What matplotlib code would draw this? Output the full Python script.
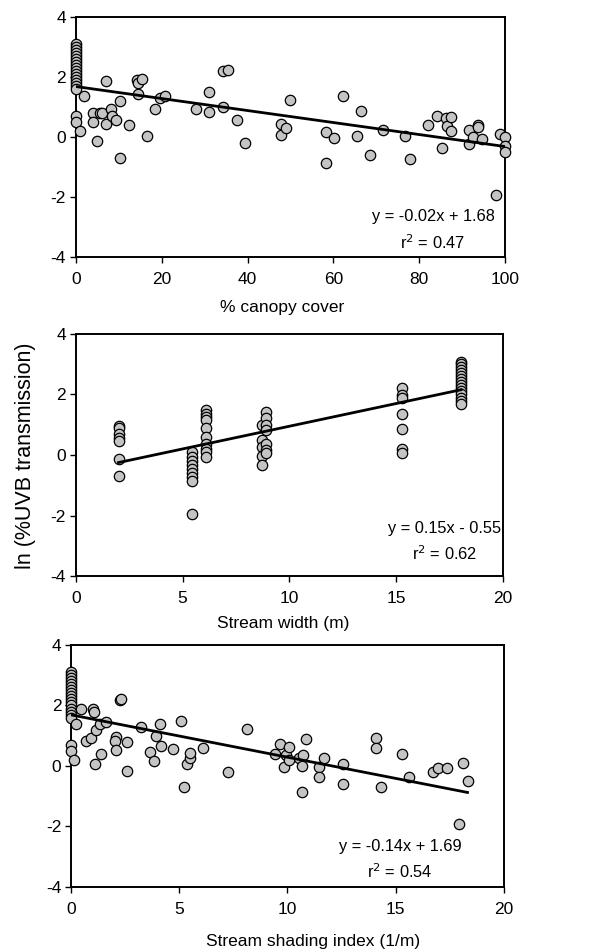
import matplotlib

matplotlib.use("Agg")
import matplotlib.pyplot as plt
import numpy as np

plt.rcParams["font.family"] = ["Liberation Sans", "DejaVu Sans"]

# panel 1: % canopy cover
canopy_x = [0] * 18 + [
    0.9, 1.9, 4.0, 4.0, 5.0, 5.6, 6.2, 7.1, 7.1, 8.2, 8.4, 9.3, 10.3, 10.3,
    12.4, 14.3, 14.5, 14.4, 15.5, 16.5, 18.5, 19.6, 20.7, 28.0, 31.1, 31.1,
    34.2, 35.4, 34.3, 37.5, 39.4, 47.8, 47.8, 48.9, 49.9, 58.3, 58.3, 60.2,
    62.3, 65.4, 66.4, 68.5, 71.6, 76.8, 77.9, 82.1, 84.2, 85.2, 86.2, 86.4,
    87.4, 87.4, 91.5, 91.5, 92.6, 93.6, 93.8, 94.7, 97.8, 98.8, 100, 100, 100,
]
canopy_y = [
    3.1, 3.0, 2.9, 2.8, 2.7, 2.6, 2.5, 2.4, 2.3, 2.2, 2.1, 2.0, 1.9, 1.8,
    1.7, 1.6, 0.7, 0.5,
    0.19, 1.38, 0.8, 0.5, -0.15, 0.8, 0.8, 1.85, 0.44, 0.94, 0.7, 0.55, 1.19,
    -0.7, 0.39, 1.9, 1.8, 1.43, 1.93, 0.04, 0.94, 1.3, 1.38, 0.94, 1.49, 0.82,
    2.19, 2.22, 0.99, 0.58, -0.2, 0.44, 0.06, 0.3, 1.22, 0.17, -0.87, -0.03,
    1.38, 0.04, 0.88, -0.59, 0.22, 0.04, -0.72, 0.41, 0.69, -0.37, 0.63, 0.36,
    0.66, 0.19, 0.22, -0.22, -0.01, 0.41, 0.33, -0.07, -1.94, 0.1, -0.01,
    -0.31, -0.5,
]

# panel 2: stream width (m)
width_x = (
    [2.0] * 7 + [5.44] * 9 + [6.12] * 10 + [8.72] * 5 + [8.92] * 7
    + [15.29] * 7 + [18.05] * 15
)
width_y = [
    0.95, 0.88, 0.71, 0.55, 0.46, -0.14, -0.69,
    0.1, -0.06, -0.2, -0.34, -0.47, -0.61, -0.72, -0.85, -1.94,
    1.5, 1.37, 1.26, 1.15, 0.88, 0.6, 0.38, 0.21, 0.1, -0.06,
    0.98, 0.49, 0.27, -0.03, -0.34,
    1.43, 1.21, 0.98, 0.82, 0.38, 0.16, 0.05,
    2.23, 1.98, 1.9, 1.37, 0.86, 0.21, 0.05,
    3.08, 3.0, 2.9, 2.8, 2.7, 2.6, 2.5, 2.4, 2.3, 2.2, 2.1, 2.0, 1.9, 1.8, 1.7,
]

# panel 3: stream shading index (1/m)
shade_x = [0] * 18 + [
    0.12, 0.25, 0.48, 0.71, 0.92, 1.02, 1.05, 1.09, 1.17, 1.35, 1.4, 1.63,
    2.08, 2.05, 2.08, 2.25, 2.32, 2.58, 2.58, 3.23, 3.63, 3.82, 3.94, 4.09,
    4.17, 4.69, 5.09, 5.2, 5.35, 5.48, 5.51, 6.09, 7.25, 8.12, 9.43, 9.66,
    9.85, 9.92, 10.05, 10.05, 10.54, 10.69, 10.74, 10.69, 10.85, 11.46, 11.46,
    11.71, 12.55, 12.58, 14.08, 14.08, 14.31, 15.28, 15.63, 16.74, 16.97,
    17.35, 17.92, 18.12, 18.32,
]
shade_y = [
    3.1, 3.0, 2.9, 2.8, 2.7, 2.6, 2.5, 2.4, 2.3, 2.2, 2.1, 2.0, 1.9, 1.8,
    1.7, 1.6, 0.7, 0.5,
    0.19, 1.39, 1.87, 0.83, 0.94, 1.9, 1.79, 0.06, 1.2, 1.39, 0.39, 1.44,
    0.97, 0.83, 0.52, 2.18, 2.23, 0.78, -0.16, 1.3, 0.45, 0.17, 0.99, 1.39,
    0.67, 0.56, 1.48, -0.69, 0.06, 0.28, 0.44, 0.58, -0.19, 1.22, 0.41, 0.72,
    -0.03, 0.36, 0.63, 0.19, 0.27, 0.0, 0.36, -0.86, 0.89, -0.03, -0.36,
    0.25, 0.06, -0.6, 0.91, 0.6, -0.71, 0.41, -0.36, -0.19, -0.06,
    -0.06, -1.93, 0.1, -0.49,
]

# fitted lines: slope, intercept, x range
fits = [(-0.02, 1.68, 0, 100), (0.15, -0.55, 2.0, 18.05), (-0.14, 1.69, 0, 18.32)]
eq_labels = ["y = -0.02x + 1.68", "y = 0.15x - 0.55", "y = -0.14x + 1.69"]
r2_labels = ["r$^2$ = 0.47", "r$^2$ = 0.62", "r$^2$ = 0.54"]
x_labels = ["% canopy cover", "Stream width (m)", "Stream shading index (1/m)"]
x_ticks = [[0, 20, 40, 60, 80, 100], [0, 5, 10, 15, 20], [0, 5, 10, 15, 20]]
y_ticks = [-4, -2, 0, 2, 4]

fig = plt.figure(figsize=(5.97, 9.51), dpi=100)
rects = [
    [0.127, 0.7298, 0.719, 0.2524],
    [0.127, 0.3943, 0.715, 0.2545],
    [0.119, 0.0673, 0.725, 0.2545],
]
text_pos = [(0.832, 0.167, 0.058), (0.864, 0.198, 0.091), (0.76, 0.169, 0.062)]
label_pos = [(0.48, -0.2125), (0.485, -0.195), (0.56, -0.227)]
data = [(canopy_x, canopy_y), (width_x, width_y), (shade_x, shade_y)]

for i, rect in enumerate(rects):
    ax = fig.add_axes(rect)
    xs, ys = data[i]
    ax.scatter(xs, ys, s=56, facecolor="#c4c4c4", edgecolor="black",
               linewidth=0.9, zorder=3, clip_on=False)
    m, b, x0, x1 = fits[i]
    lx = np.array([x0, x1])
    ax.plot(lx, m * lx + b, color="black", linewidth=2.0, zorder=4)
    ax.set_xlim(x_ticks[i][0], x_ticks[i][-1])
    ax.set_ylim(-4, 4)
    ax.set_xticks(x_ticks[i])
    ax.set_yticks(y_ticks)
    ax.set_yticklabels([str(t) for t in y_ticks])
    ax.tick_params(direction="out", length=4, width=1, labelsize=12.5, pad=3)
    ax.tick_params(axis="x", pad=7)
    for sp in ax.spines.values():
        sp.set_linewidth(1.4)
    tx, ty1, ty2 = text_pos[i]
    ax.text(tx, ty1, eq_labels[i], transform=ax.transAxes, ha="center",
            va="center", fontsize=11.8)
    ax.text(tx, ty2, r2_labels[i], transform=ax.transAxes, ha="center",
            va="center", fontsize=11.8)
    ax.set_xlabel(x_labels[i], fontsize=12.5, va="center")
    ax.xaxis.set_label_coords(*label_pos[i])

fig.text(0.042, 1 - 456 / 951, "ln (%UVB transmission)", rotation=90,
         ha="center", va="center", fontsize=15.5)

fig.savefig("out.png", dpi=100)
plt.close(fig)
